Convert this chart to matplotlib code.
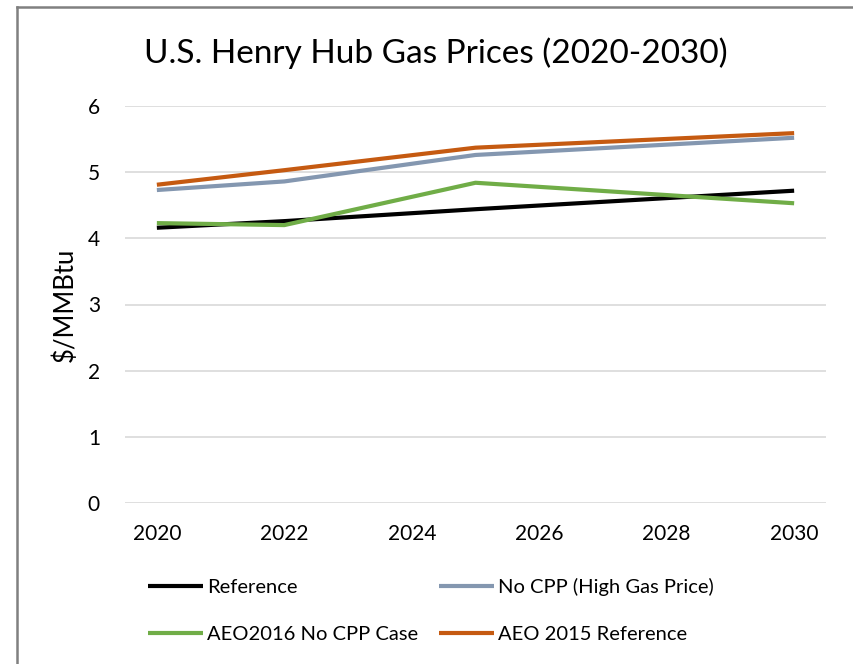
import matplotlib
matplotlib.use("Agg")
import matplotlib.pyplot as plt
from matplotlib.lines import Line2D

plt.rcParams['font.family'] = ['Lato', 'DejaVu Sans']

years = [2020, 2022, 2025, 2030]
reference = [4.16, 4.26, 4.44, 4.72]
no_cpp_high = [4.73, 4.86, 5.26, 5.52]
aeo2016_no_cpp = [4.23, 4.20, 4.84, 4.53]
aeo2015_ref = [4.81, 5.03, 5.37, 5.59]

series_names = ["Reference", "No CPP (High Gas Price)", "AEO2016 No CPP Case", "AEO 2015 Reference"]
series_vals = [reference, no_cpp_high, aeo2016_no_cpp, aeo2015_ref]
series_colors = ["#000000", "#8497B0", "#70AD47", "#C55A11"]

xticks = [2020, 2022, 2024, 2026, 2028, 2030]
yticks = [0, 1, 2, 3, 4, 5, 6]

W, H = 854, 664
fig = plt.figure(figsize=(W / 100, H / 100), dpi=100)
fig.patch.set_facecolor("white")

# outer chart border (top and left edges visible)
fig.add_artist(Line2D([17 / W, 1.0], [1 - 7 / H, 1 - 7 / H], transform=fig.transFigure,
                      color="#808080", lw=1.8))
fig.add_artist(Line2D([17 / W, 17 / W], [0.0, 1 - 7 / H], transform=fig.transFigure,
                      color="#808080", lw=1.8))

ax = fig.add_axes([125 / W, (H - 503) / H, (826 - 125) / W, (503 - 106) / H])

order = [3, 1, 0, 2]
lines = {}
for i in order:
    ln, = ax.plot(years, series_vals[i], color=series_colors[i], lw=3.0,
                  solid_capstyle="butt", label=series_names[i], zorder=3)
    lines[i] = ln

ax.set_xlim(2019.5, 2030.5)
ax.set_ylim(0, 6)
ax.set_xticks(xticks)
ax.set_yticks(yticks)
ax.grid(axis="y", color="#D9D9D9", lw=1.2, zorder=0)
for s in ax.spines.values():
    s.set_visible(False)
ax.tick_params(axis="both", length=0, labelsize=15, colors="#000000")
ax.tick_params(axis="x", pad=15)
ax.tick_params(axis="y", pad=18)
ax.set_ylabel("$/MMBtu", fontsize=18.5, labelpad=7)

fig.text(436 / W, 1 - 53 / H, "U.S. Henry Hub Gas Prices (2020-2030)", fontsize=24,
         ha="center", va="center", color="#000000")

# legend filled column-wise by matplotlib -> order so rows read as in the reference
leg_idx = [0, 2, 1, 3]
fig.legend([lines[i] for i in leg_idx], [series_names[i] for i in leg_idx], ncol=2,
           loc="upper left", bbox_to_anchor=(138 / W, 1 - 568 / H), frameon=False,
           fontsize=14.5, handlelength=2.75, handletextpad=0.2,
           columnspacing=1.0, labelspacing=1.5, borderpad=0)

fig.savefig("out.png", dpi=100, facecolor="white")
